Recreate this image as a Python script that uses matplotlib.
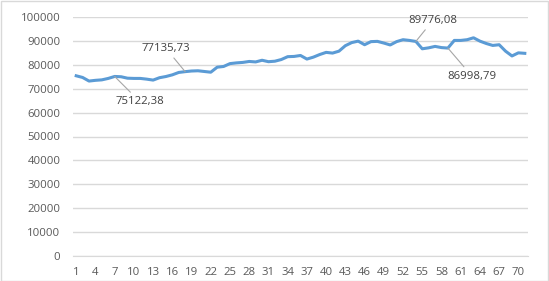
import numpy as np
import matplotlib
matplotlib.use("Agg")
import matplotlib.pyplot as plt
from matplotlib.patches import Rectangle

# values (71 points)
values = [
    75400, 74700, 73200, 73500, 73700, 74300, 75122.38, 75000, 74400, 74300,
    74300, 74000, 73600, 74600, 75100, 75800, 76800, 77135.73, 77400, 77500,
    77200, 76900, 79000, 79300, 80500, 80800, 81000, 81400, 81200, 81900,
    81300, 81500, 82200, 83400, 83500, 83900, 82400, 83200, 84300, 85200,
    84900, 85700, 88000, 89300, 89900, 88400, 89700, 89800, 89100, 88300,
    89700, 90500, 90200, 89776.08, 86700, 87100, 87700, 87200, 86998.79, 90200,
    90200, 90500, 91300, 89900, 88900, 88100, 88400, 85700, 83700, 85000,
    84800,
]
x = np.arange(1, len(values) + 1)
tick_labels = list(range(1, 71, 3))
yticks = list(range(0, 100001, 10000))

# labelled points and their label offsets (pixels)
labelled = [7, 18, 54, 59]
label_offsets = [(25, -25), (-19, 23), (17, 21), (24, -28)]

plt.rcParams['font.family'] = ['Open Sans', 'DejaVu Sans']

fig = plt.figure(figsize=(5.49, 2.81), dpi=100)
ax = fig.add_axes([73 / 549, 25 / 281, 455 / 549, 239 / 281])

ax.plot(x, values, color="#5B9BD5", linewidth=2.2, solid_joinstyle="round", zorder=3)

ax.set_xlim(0.5, len(values) + 0.5)
ax.set_ylim(0, 100000)
ax.set_yticks(yticks)
ax.set_yticklabels([str(v) for v in yticks])
ax.set_xticks(tick_labels)
ax.set_xticklabels([str(v) for v in tick_labels])
ax.grid(axis="y", color="#D9D9D9", linewidth=1)
ax.set_axisbelow(True)
for s in ["top", "right", "left"]:
    ax.spines[s].set_visible(False)
ax.spines["bottom"].set_color("#D9D9D9")
ax.tick_params(axis="both", length=0, labelsize=8.2, labelcolor="#595959")
ax.tick_params(axis="y", pad=9)
ax.tick_params(axis="x", pad=8)

for idx, (dx, dy) in zip(labelled, label_offsets):
    v = values[idx - 1]
    txt = f"{v:.2f}".replace(".", ",")
    ax.annotate(txt, xy=(idx, v), xytext=(dx, dy), textcoords="offset pixels",
                ha="center", va="center", fontsize=8.2, color="#404040",
                arrowprops=dict(arrowstyle="-", color="#A6A6A6", lw=0.8,
                                shrinkA=1, shrinkB=0))

# chart border
fig.patches.append(Rectangle((0.5 / 549, 0.5 / 281), 547.5 / 549, 279.5 / 281,
                             transform=fig.transFigure, fill=False,
                             edgecolor="#D9D9D9", linewidth=1))

fig.savefig("out.png", dpi=100)
